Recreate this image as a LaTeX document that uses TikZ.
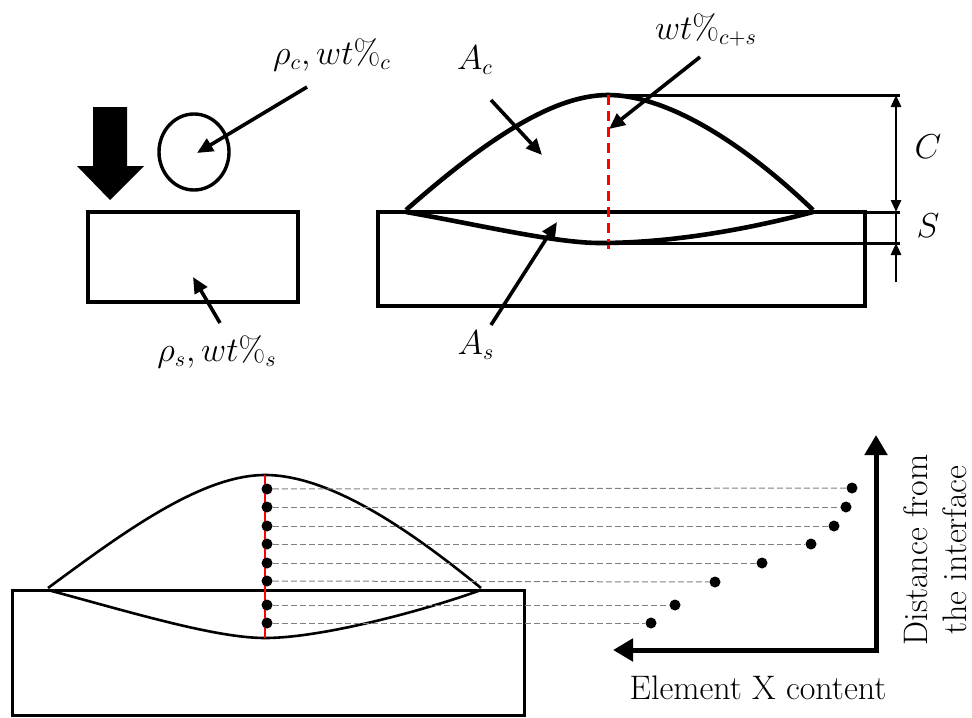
\documentclass[tikz,border=0pt]{standalone}
\usepackage{amsmath, amssymb}
\usepackage{xcolor}
\usepackage{tikz}
\usetikzlibrary{arrows.meta}

\begin{document}
\begin{tikzpicture}[
  x=0.5pt, y=-0.5pt,
  lbl/.style={font=\fontsize{16}{19}\selectfont, inner sep=1pt},
  txt/.style={font=\fontsize{17}{19.5}\selectfont, inner sep=1pt},
  outline/.style={line width=2.3pt},
  outlineB/.style={line width=1.3pt},
  arr/.style={-{Triangle[length=8pt, width=7pt]}, line width=1.8pt},
  dimarr/.style={{Triangle[length=6pt, width=5pt]}-{Triangle[length=6pt, width=5pt]}, line width=1.4pt},
  axis/.style={-{Triangle[length=10pt, width=11pt]}, line width=2.5pt},
  dot/.style={circle, fill=black, minimum size=5.5pt, inner sep=0pt},
  guide/.style={gray, line width=0.5pt, dash pattern=on 3pt off 1.5pt},
]
\useasboundingbox (0,0) rectangle (972,717);

% --- Before deposition (top left) ---
\fill (93,107) -- (127,107) -- (127,166) -- (144,166) -- (110,200)
  -- (77,166) -- (93,166) -- cycle;
\draw[line width=1.7pt] (194,152) ellipse [x radius=35, y radius=38];
\draw[outline] (88,212) rectangle (298,302);
\node[lbl] (rhoc) at (332,55) {$\rho_c, wt\%_c$};
\node[lbl] (rhos) at (217,352) {$\rho_s, wt\%_s$};
\coordinate (rhocS) at (307,87);
\coordinate (rhocE) at (197,153);
\coordinate (rhosS) at (220,323);
\coordinate (rhosE) at (193,277);
\draw[arr] (rhocS) -- (rhocE);
\draw[arr] (rhosS) -- (rhosE);

% --- After deposition (top right) ---
\draw[outline] (378,212) rectangle (865,306);
\draw[outline] (406,210) .. controls (480,145) and (550,95) .. (608,95)
  .. controls (665,95) and (740,140) .. (813,210);
\draw[outline] (406,212) .. controls (480,225) and (555,243) .. (600,243)
  .. controls (680,243) and (760,226) .. (813,212);
\draw[red, line width=1.5pt, dash pattern=on 5pt off 3pt] (608,95) -- (608,252);
% dimension lines
\draw[line width=1.5pt] (615,95) -- (900,95);
\draw[line width=1.5pt] (865,212) -- (900,212);
\draw[line width=1.5pt] (600,243) -- (900,243);
\coordinate (cTop) at (896,95);
\coordinate (cBot) at (896,212);
\coordinate (sBot) at (896,243);
\coordinate (sTail) at (896,282);
\draw[dimarr] (cTop) -- (cBot);
\draw[line width=1.4pt] (cBot) -- (sBot);
\draw[-{Triangle[length=6pt, width=5pt]}, line width=1.4pt] (sTail) -- (sBot);
\node[lbl] (clbl) at (928,147) {$C$};
\node[lbl] (slbl) at (928,226) {$S$};
% callouts
\node[lbl] (ac) at (475,60) {$A_c$};
\node[lbl] (wcs) at (706,30) {$wt\%_{c+s}$};
\node[lbl] (as) at (476,345) {$A_s$};
\coordinate (acS) at (491,100);
\coordinate (acE) at (542,155);
\coordinate (wcsS) at (700,57);
\coordinate (wcsE) at (609,129);
\coordinate (asS) at (491,325);
\coordinate (asE) at (557,222);
\draw[arr] (acS) -- (acE);
\draw[arr] (wcsS) -- (wcsE);
\draw[arr] (asS) -- (asE);

% --- Line scan (bottom) ---
\draw[line width=1.5pt] (12,590) rectangle (524,715);
\draw[outlineB] (48,588) .. controls (120,535) and (200,475) .. (265,475)
  .. controls (330,475) and (410,530) .. (481,588);
\draw[outlineB] (48,590) .. controls (130,612) and (215,638) .. (265,638)
  .. controls (320,638) and (420,612) .. (481,590);
\draw[red, line width=1pt] (265,475) -- (265,638);

% measuring points on the scan line
\node[dot] (p1) at (267,489) {};
\node[dot] (p2) at (267,507) {};
\node[dot] (p3) at (267,526) {};
\node[dot] (p4) at (267,544) {};
\node[dot] (p5) at (267,563) {};
\node[dot] (p6) at (267,581) {};
\node[dot] (p7) at (267,605) {};
\node[dot] (p8) at (267,623) {};
% profile points
\node[dot] (q1) at (852,488) {};
\node[dot] (q2) at (846,507) {};
\node[dot] (q3) at (834,526) {};
\node[dot] (q4) at (811,544) {};
\node[dot] (q5) at (762,563) {};
\node[dot] (q6) at (715,582) {};
\node[dot] (q7) at (675,605) {};
\node[dot] (q8) at (651,623) {};
\draw[guide] (p1) -- (q1);
\draw[guide] (p2) -- (q2);
\draw[guide] (p3) -- (q3);
\draw[guide] (p4) -- (q4);
\draw[guide] (p5) -- (q5);
\draw[guide] (p6) -- (q6);
\draw[guide] (p7) -- (q7);
\draw[guide] (p8) -- (q8);

% axes
\coordinate (org) at (876,650);
\coordinate (orgX) at (878.5,650);
\coordinate (yTip) at (876,435);
\coordinate (xTip) at (613,650);
\draw[axis] (org) -- (yTip);
\draw[axis] (orgX) -- (xTip);
\node[txt] (xlbl) at (758,688) {Element X content};
\node[txt, rotate=90, align=center] (ylbl) at (935,550) {Distance from\\the interface};
\end{tikzpicture}
\end{document}
